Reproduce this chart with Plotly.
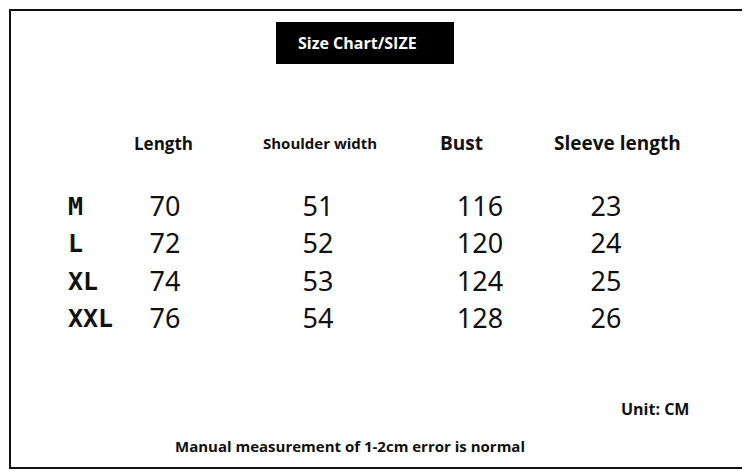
import plotly.graph_objects as go

sizes = ["M", "L", "XL", "XXL"]
length = [70, 72, 74, 76]
shoulder = [51, 52, 53, 54]
bust = [116, 120, 124, 128]
sleeve = [23, 24, 25, 26]
headers = ["Length", "Shoulder width", "Bust", "Sleeve length"]

col_x = [165, 318, 480, 606]
head_x = [163, 320, 461, 617]
head_size = [17, 15, 19, 19]
row_y = [209, 246, 284, 321]

fig = go.Figure()
font_val = dict(family="Noto Sans", size=27, color="#111")
for cx, vals in zip(col_x, [length, shoulder, bust, sleeve]):
    fig.add_trace(go.Scatter(x=[cx]*len(vals), y=row_y, mode="text",
                             text=[str(v) for v in vals], textfont=font_val,
                             hoverinfo="skip", showlegend=False))
fig.add_trace(go.Scatter(x=[68]*len(sizes), y=row_y, mode="text",
                         text=[f"<b>{s}</b>" for s in sizes],
                         textposition="middle right",
                         textfont=dict(family="DejaVu Sans Mono", size=25, color="#111"),
                         hoverinfo="skip", showlegend=False))
for hx, h, s in zip(head_x, headers, head_size):
    fig.add_annotation(x=hx, y=143, text=f"<b>{h}</b>", showarrow=False,
                       font=dict(family="Open Sans", size=s, color="#111"))

fig.add_shape(type="rect", x0=10, y0=10, x1=746, y1=468, line=dict(color="#111", width=2))
fig.add_shape(type="rect", x0=276, y0=22, x1=454, y1=64, fillcolor="black", line=dict(width=0))
fig.add_annotation(x=357, y=43, text="<b>Size Chart/SIZE</b>", showarrow=False,
                   font=dict(family="Open Sans", size=16, color="white"))
fig.add_annotation(x=655, y=409, text="<b>Unit: CM</b>", showarrow=False,
                   font=dict(family="Open Sans", size=16, color="#111"))
fig.add_annotation(x=350, y=446, text="<b>Manual measurement of 1-2cm error is normal</b>",
                   showarrow=False, font=dict(family="Open Sans", size=15, color="#111"))

# page body has an 8px margin; offset ranges so coordinates match window pixels
fig.update_xaxes(range=[8, 758], visible=False, fixedrange=True)
fig.update_yaxes(range=[482, 8], visible=False, fixedrange=True)
fig.update_layout(width=750, height=474, margin=dict(l=0, r=0, t=0, b=0),
                  plot_bgcolor="white", paper_bgcolor="white")
fig.write_html("out.html")
